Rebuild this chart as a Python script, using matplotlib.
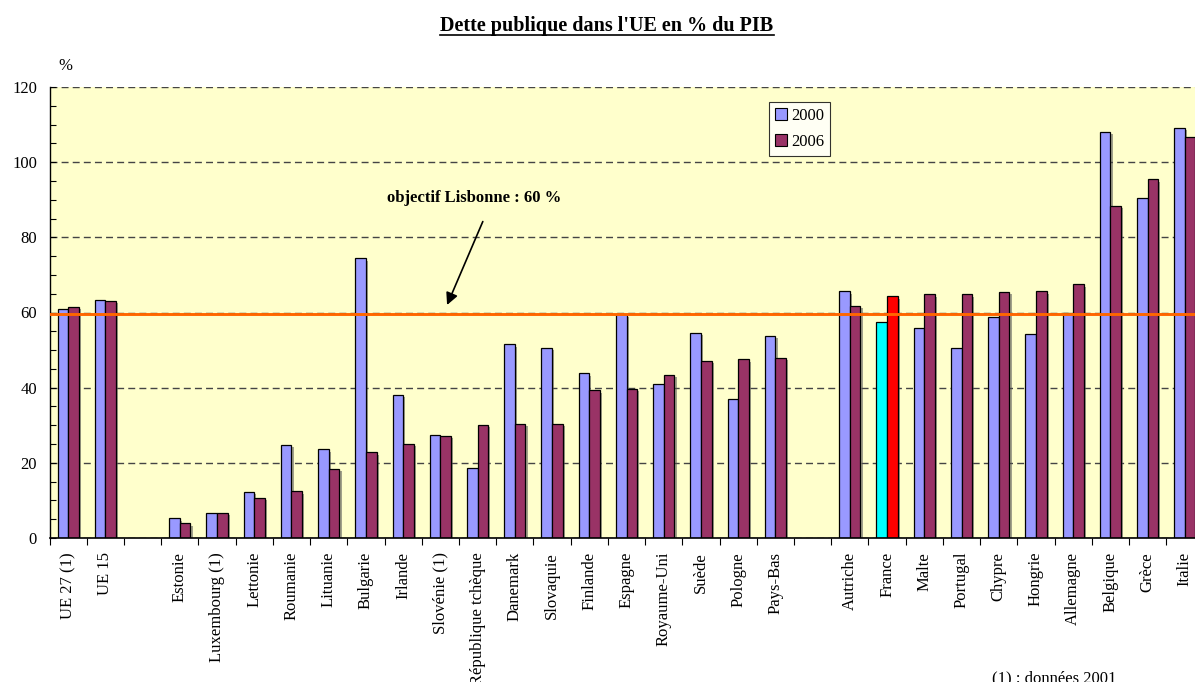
import numpy as np
import matplotlib
matplotlib.use("Agg")
import matplotlib.pyplot as plt
from matplotlib.lines import Line2D
from matplotlib.patches import Patch
import matplotlib.patheffects as pe

plt.rcParams['font.family'] = ['Liberation Serif', 'DejaVu Serif']

categories = ["UE 27 (1)", "UE 15", "", "Estonie", "Luxembourg (1)", "Lettonie", "Roumanie",
              "Lituanie", "Bulgarie", "Irlande", "Slovénie (1)", "République tchèque",
              "Danemark", "Slovaquie", "Finlande", "Espagne", "Royaume-Uni", "Suède",
              "Pologne", "Pays-Bas", "", "Autriche", "France", "Malte", "Portugal",
              "Chypre", "Hongrie", "Allemagne", "Belgique", "Grèce", "Italie"]
v2000 = [60.9, 63.2, np.nan, 5.2, 6.6, 12.2, 24.7, 23.6, 74.4, 38.0, 27.3, 18.5,
         51.5, 50.5, 43.8, 59.5, 41.1, 54.5, 36.9, 53.8, np.nan, 65.6, 57.4, 56.0,
         50.5, 58.9, 54.2, 59.8, 108.0, 90.4, 109.2]
v2006 = [61.4, 63.1, np.nan, 3.9, 6.6, 10.6, 12.4, 18.3, 22.8, 25.1, 27.1, 30.0,
         30.3, 30.4, 39.3, 39.7, 43.3, 47.1, 47.5, 48.0, np.nan, 61.8, 64.3, 64.8,
         64.8, 65.4, 65.6, 67.5, 88.3, 95.4, 106.8]
years = ["2000", "2006"]
highlight = "France"
target = 59.6

W, H = 1195, 682
fig = plt.figure(figsize=(W / 100, H / 100), dpi=100)
fig.patch.set_facecolor('white')
ax = fig.add_axes([49.5 / W, 1 - 538 / H, 1154 / W, 451 / H])
ax.set_facecolor('#FFFFCC')

x = np.arange(len(categories))
bw = 0.285
c2000 = ['#00FFFF' if c == highlight else '#9999FF' for c in categories]
c2006 = ['#FF0000' if c == highlight else '#993366' for c in categories]
shadow = [pe.SimplePatchShadow(offset=(1.6, -1.6), shadow_rgbFace='#555555', alpha=0.55), pe.Normal()]
b1 = ax.bar(x - bw / 2, v2000, bw, color=c2000, edgecolor='black', linewidth=0.9, zorder=3)
b2 = ax.bar(x + bw / 2, v2006, bw, color=c2006, edgecolor='black', linewidth=0.9, zorder=3)
for b in list(b1) + list(b2):
    b.set_path_effects(shadow)

ax.set_xlim(-0.5, len(categories) - 0.5)
ax.set_ylim(0, 120)
ax.set_yticks(np.arange(0, 121, 20))
ax.set_yticks(np.arange(0, 121, 5), minor=True)
ax.yaxis.grid(True, which='major', color='#444444', linestyle=(0, (5, 3)), linewidth=1.0, zorder=1)
ax.tick_params(axis='y', which='both', direction='in', length=4, width=0.8, pad=9, labelsize=12)
ax.set_xticks(x)
ax.set_xticklabels(categories, rotation=90, fontsize=12, va='top', ha='center')
ax.set_xticks(np.arange(-0.5, len(categories), 1), minor=True)
ax.tick_params(axis='x', which='major', length=0, pad=10)
ax.tick_params(axis='x', which='minor', direction='out', length=5, width=0.8)
for s in ['top', 'right']:
    ax.spines[s].set_visible(False)
ax.spines['left'].set_linewidth(1.0)
ax.spines['bottom'].set_linewidth(1.2)
ax.spines['bottom'].set_zorder(5)

ax.axhline(target, color='#FF6600', linewidth=2.1, zorder=4)

ax.annotate("objectif Lisbonne : 60 %", xy=(10.18, 62.0), xytext=(10.92, 90.5),
            ha='center', va='center', fontsize=12, fontweight='bold',
            arrowprops=dict(arrowstyle='-|>', color='black', lw=1.2, mutation_scale=18,
                            shrinkA=0, shrinkB=0, relpos=(0.57, 0.0)), zorder=6)
# re-route arrow start to the exact tail point
ax.annotate("", xy=(10.18, 62.0), xytext=(11.14, 84.2),
            arrowprops=dict(arrowstyle='-|>', color='black', lw=1.2, mutation_scale=18,
                            shrinkA=0, shrinkB=0), zorder=6)
ax.texts[0].arrow_patch.set_visible(False)

handles = [Patch(facecolor='#9999FF', edgecolor='black', linewidth=0.8),
           Patch(facecolor='#993366', edgecolor='black', linewidth=0.8)]
leg = ax.legend(handles, years, loc='upper left', bbox_to_anchor=(769 / W, 1 - 102 / H),
                bbox_transform=fig.transFigure, borderaxespad=0, fontsize=12,
                fancybox=False, frameon=True, handlelength=0.7, handleheight=0.7,
                handletextpad=0.3, labelspacing=0.6, borderpad=0.35)
leg.get_frame().set_edgecolor('black')
leg.get_frame().set_linewidth(0.8)
leg.get_frame().set_facecolor('white')
leg.set_zorder(7)

fig.text(58 / W, 1 - 66 / H, "%", fontsize=12, ha='left', va='center')
t = fig.text(607 / W, 1 - 26 / H, "Dette publique dans l'UE en % du PIB", fontsize=14.5,
             fontweight='bold', ha='center', va='center')
fig.text(992 / W, 1 - 678 / H, "(1) : données 2001", fontsize=12, ha='left', va='center')

fig.canvas.draw()
bb = t.get_window_extent(renderer=fig.canvas.get_renderer())
fig.add_artist(Line2D([bb.x0 / W, bb.x1 / W], [1 - 34.5 / H, 1 - 34.5 / H],
                      transform=fig.transFigure, color='black', linewidth=1.2))

fig.savefig("out.png", dpi=100, facecolor='white')
